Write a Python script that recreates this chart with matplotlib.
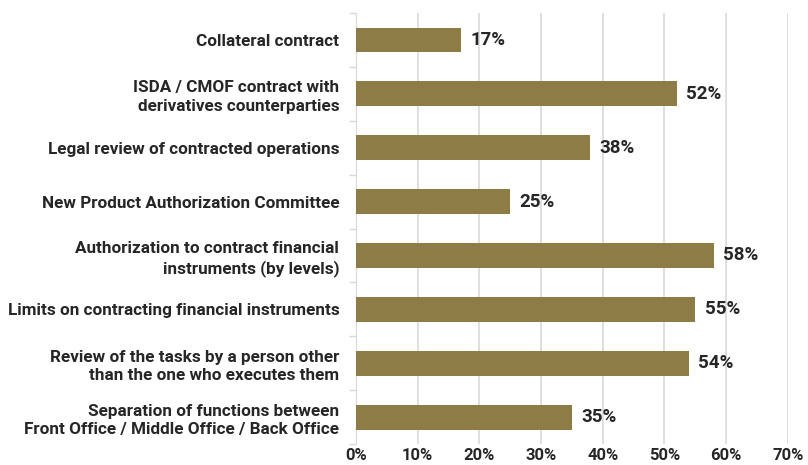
import numpy as np
import matplotlib.pyplot as plt
from matplotlib.ticker import FixedLocator

plt.rcParams['font.family'] = ['Roboto', 'DejaVu Sans']

categories = [
    'Collateral contract',
    'ISDA / CMOF contract with\nderivatives counterparties',
    'Legal review of contracted operations',
    'New Product Authorization Committee',
    'Authorization to contract financial\ninstruments (by levels)',
    'Limits on contracting financial instruments',
    'Review of the tasks by a person other\nthan the one who executes them',
    'Separation of functions between\nFront Office / Middle Office / Back Office',
]
values = [17, 52, 38, 25, 58, 55, 54, 35]
xticks = [0, 10, 20, 30, 40, 50, 60, 70]

bar_color = '#8d7c46'
text_color = '#262626'
grid_color = '#d9d9d9'

fig = plt.figure(figsize=(8.08, 4.65), dpi=100)
ax = fig.add_axes([0.4406, 0.045, 0.5344, 0.927])

y = np.arange(len(categories))
ax.barh(y, values, height=0.46, color=bar_color, zorder=3)

for yi, v in zip(y, values):
    ax.text(v + 1.5, yi, f'{v}%', va='center', ha='left',
            fontsize=13.5, fontweight='bold', color=text_color, zorder=4)

ax.set_xlim(0, 70)
ax.set_ylim(len(categories) - 0.5, -0.5)
ax.set_xticks(xticks)
ax.set_xticklabels([f'{t}%' for t in xticks])
ax.set_yticks(y)
ax.set_yticklabels(categories)
ax.yaxis.set_minor_locator(FixedLocator(np.arange(-0.5, len(categories), 1)))

ax.tick_params(axis='y', which='major', length=0, pad=12,
               labelsize=12.3, labelcolor=text_color)
for lab in ax.get_yticklabels():
    lab.set_fontweight('bold')
    lab.set_multialignment('right')
    lab.set_linespacing(1.3)
ax.tick_params(axis='y', which='minor', length=5, color=grid_color, width=1)
ax.tick_params(axis='x', length=0, pad=3, labelsize=12, labelcolor=text_color)
for lab in ax.get_xticklabels():
    lab.set_fontweight('bold')

ax.grid(axis='x', color=grid_color, linewidth=1.2, zorder=0)
for side in ['top', 'right', 'bottom']:
    ax.spines[side].set_visible(False)
ax.spines['left'].set_color(grid_color)

fig.savefig('out.png', dpi=100)
